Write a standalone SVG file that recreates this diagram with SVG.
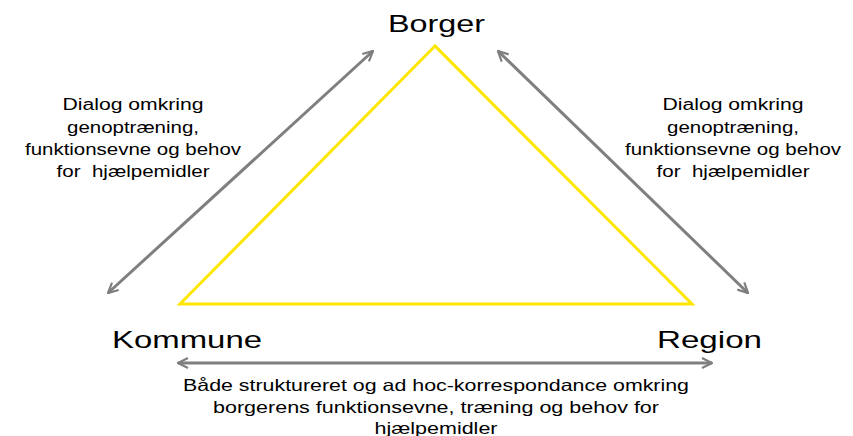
<svg xmlns="http://www.w3.org/2000/svg" width="853" height="436" viewBox="0 0 853 436">
<defs>
<marker id="ah" viewBox="0 0 12 12" refX="11" refY="6" markerWidth="4" markerHeight="4" orient="auto-start-reverse" markerUnits="strokeWidth">
<path d="M1,1 L11,6 L1,11" fill="none" stroke="#7f7f7f" stroke-width="2.2"/>
</marker>
</defs>
<style>
text{font-family:"Liberation Sans",Arial,sans-serif;fill:#000}
.lbl{font-size:24px}
.sm{font-size:16px}
.bt{font-size:16.5px}
.conn{stroke:#7f7f7f;stroke-width:3;fill:none;marker-start:url(#ah);marker-end:url(#ah)}
</style>
<rect width="853" height="436" fill="#fff"/>
<g id="triangle">
<polygon points="435,46 180,304 692,304" fill="none" stroke="#ffe600" stroke-width="3"/>
</g>
<g id="connectors">
<line class="conn" x1="108" y1="293" x2="373" y2="51"/>
<line class="conn" x1="498" y1="51" x2="748" y2="293"/>
<line class="conn" x1="178" y1="363" x2="712" y2="363"/>
</g>
<g id="borger"><text class="lbl" x="388" y="32" textLength="97" lengthAdjust="spacingAndGlyphs">Borger</text></g>
<g id="kommune"><text class="lbl" x="112" y="348" textLength="150" lengthAdjust="spacingAndGlyphs">Kommune</text></g>
<g id="region"><text class="lbl" x="657" y="348" textLength="105" lengthAdjust="spacingAndGlyphs">Region</text></g>
<g id="label-left">
<text class="sm" x="62.5" y="110" textLength="141" lengthAdjust="spacingAndGlyphs">Dialog omkring</text>
<text class="sm" x="67" y="133" textLength="132" lengthAdjust="spacingAndGlyphs">genoptræning,</text>
<text class="sm" x="25" y="155" textLength="216" lengthAdjust="spacingAndGlyphs">funktionsevne og behov</text>
<text class="sm" x="56.5" y="177" textLength="153" lengthAdjust="spacingAndGlyphs" xml:space="preserve">for  hjælpemidler</text>
</g>
<g id="label-right">
<text class="sm" x="662.5" y="110" textLength="141" lengthAdjust="spacingAndGlyphs">Dialog omkring</text>
<text class="sm" x="667" y="133" textLength="132" lengthAdjust="spacingAndGlyphs">genoptræning,</text>
<text class="sm" x="625" y="155" textLength="216" lengthAdjust="spacingAndGlyphs">funktionsevne og behov</text>
<text class="sm" x="656.5" y="177" textLength="153" lengthAdjust="spacingAndGlyphs" xml:space="preserve">for  hjælpemidler</text>
</g>
<g id="label-bottom">
<text class="bt" x="183" y="391" textLength="506" lengthAdjust="spacingAndGlyphs">Både struktureret og ad hoc-korrespondance omkring</text>
<text class="bt" x="213" y="413" textLength="446" lengthAdjust="spacingAndGlyphs">borgerens funktionsevne, træning og behov for</text>
<text class="bt" x="374.5" y="434" textLength="123" lengthAdjust="spacingAndGlyphs">hjælpemidler</text>
</g>
</svg>
